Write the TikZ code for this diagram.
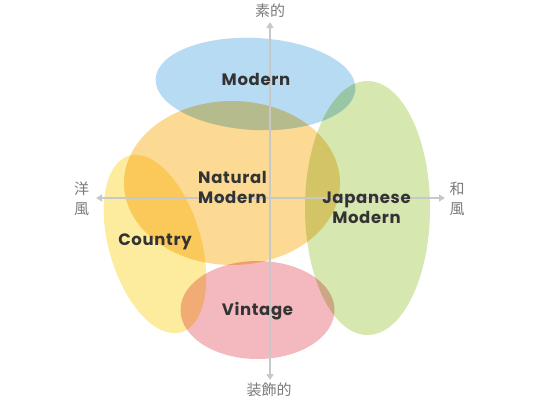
\documentclass[tikz,border=0pt]{standalone}
\usepackage{fontspec}
\newfontfamily\labfont[LetterSpace=4]{Poppins}
\newfontfamily\jpfont{Noto Sans CJK JP}
\usetikzlibrary{arrows.meta}
\definecolor{cblue}{HTML}{B8DBF4}
\definecolor{corange}{HTML}{FCDA93}
\definecolor{cgreen}{HTML}{D6E7B0}
\definecolor{cyellow}{HTML}{FDEC9D}
\definecolor{cpink}{HTML}{F3B9BF}
\definecolor{axisgray}{HTML}{C8C8C8}
\definecolor{jpgray}{HTML}{7A7A7A}
\definecolor{labdark}{HTML}{333333}
\tikzset{
  lab/.style={font=\labfont\fontsize{16.5}{20}\selectfont\bfseries, text=labdark, align=center, inner sep=0pt},
  jplab/.style={font=\jpfont\fontsize{15}{20}\selectfont, text=jpgray, align=center, inner sep=0pt},
  axisline/.style={draw=axisgray, line width=1.5pt, -{Triangle[width=7pt,length=6pt]}}
}
\begin{document}
\begin{tikzpicture}[x=1pt,y=-1pt]
\useasboundingbox (0,0) rectangle (540,400);
\begin{scope}[blend group=multiply]
  \fill[cblue, shift={(255.5,84)}, rotate=-3] (0,0) ellipse [x radius=100, y radius=46];
  \fill[corange, shift={(232,183)}] (0,0) ellipse [x radius=108, y radius=82];
  \fill[cgreen, shift={(367.5,208)}] (0,0) ellipse [x radius=62.5, y radius=127];
  \fill[cyellow, shift={(155,244)}, rotate=16.5] (0,0) ellipse [x radius=46, y radius=92];
  \fill[cpink, shift={(257.5,310)}] (0,0) ellipse [x radius=77, y radius=49];
\end{scope}
\coordinate (c) at (270,198);
\coordinate (top) at (270,22);
\coordinate (bot) at (270,380);
\coordinate (left) at (96,198);
\coordinate (right) at (445,198);
\draw[axisline] (c) -- (top);
\draw[axisline] (c) -- (bot);
\draw[axisline] (c) -- (left);
\draw[axisline] (c) -- (right);
\node[jplab] (ttop) at (270,11) {素的};
\node[jplab] (tbot) at (269,390) {装飾的};
\node[jplab] (tleft) at (81.5,199) {洋\\風};
\node[jplab] (tright) at (457,199) {和\\風};
\node[lab] (modern) at (256,79) {Modern};
\node[lab] (natural) at (232.5,187) {Natural\\Modern};
\node[lab] (japanese) at (366.5,208) {Japanese\\Modern};
\node[lab] (country) at (155,242) {Country};
\node[lab] (vintage) at (257.5,311) {Vintage};
\end{tikzpicture}
\end{document}
